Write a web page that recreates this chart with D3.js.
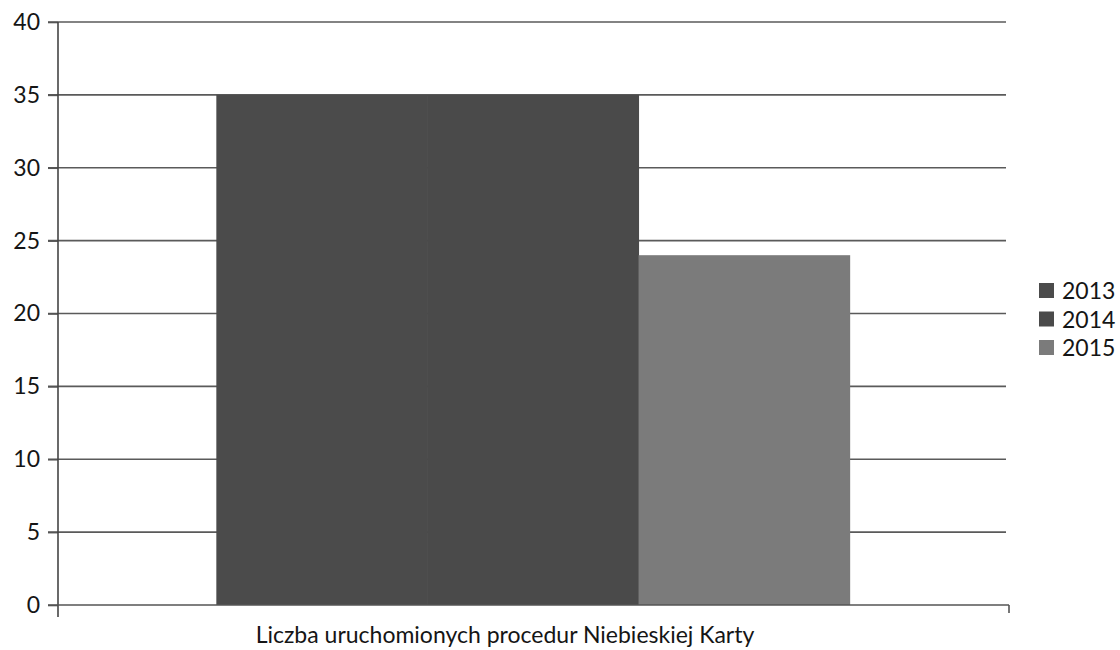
<!DOCTYPE html>
<html>
<head>
<meta charset="utf-8">
<script src="https://cdn.jsdelivr.net/npm/d3@7"></script>
<style>
	body { margin: 0; background: #fff; }
	text { font-family: Lato, "Open Sans", sans-serif; fill: #151515; }
</style>
</head>
<body>
<svg id="chart" width="1120" height="650"></svg>
<script>
var years = ["2013", "2014", "2015"];
var values = [35, 35, 24];
var colors = ["#4b4b4b", "#4a4a4a", "#7b7b7b"];
var yTicks = [0, 5, 10, 15, 20, 25, 30, 35, 40];
var category = "Liczba uruchomionych procedur Niebieskiej Karty";

var svg = d3.select("#chart");

var plotLeft = 58, plotRight = 1008, plotTop = 22, plotBottom = 605;

var y = d3.scaleLinear().domain([0, 40]).range([plotBottom, plotTop]);
var xCat = d3.scaleBand().domain([category]).range([plotLeft, plotRight]).paddingInner(0).paddingOuter(0);
// gap width ~150% of a bar, split on both sides
var gapFrac = 1.5 / (3 + 1.5);
var groupStart = xCat(category) + xCat.bandwidth() * gapFrac / 2;
var groupEnd = xCat(category) + xCat.bandwidth() * (1 - gapFrac / 2);
var x = d3.scaleBand().domain(years).range([groupStart, groupEnd]).padding(0);

// gridlines
svg.append("g")
	.selectAll("line")
	.data(yTicks.filter(function (d) { return d > 0; }))
	.enter().append("line")
	.attr("x1", plotLeft - 10)
	.attr("x2", plotRight - 2)
	.attr("y1", function (d) { return y(d); })
	.attr("y2", function (d) { return y(d); })
	.attr("stroke", "#5a5a5a")
	.attr("stroke-width", 1.6);

// bars
svg.append("g")
	.selectAll("rect")
	.data(values)
	.enter().append("rect")
	.attr("x", function (d, i) { return x(years[i]); })
	.attr("y", function (d) { return y(d); })
	.attr("width", x.bandwidth() + 0.5)
	.attr("height", function (d) { return y(0) - y(d); })
	.attr("fill", function (d, i) { return colors[i]; });

// y axis
var yAxis = d3.axisLeft(y).tickValues(yTicks).tickSize(10).tickPadding(8);
var gy = svg.append("g")
	.attr("transform", "translate(" + plotLeft + ",0)")
	.call(yAxis);
gy.select(".domain").remove();
gy.selectAll(".tick line").attr("stroke", "#555").attr("stroke-width", 1.6);
gy.selectAll(".tick text").style("font-size", "23px").attr("fill", "#151515");
svg.append("line")
	.attr("x1", plotLeft).attr("x2", plotLeft)
	.attr("y1", plotTop).attr("y2", plotBottom + 12)
	.attr("stroke", "#444").attr("stroke-width", 1.6);

// x axis
var xAxis = d3.axisBottom(xCat).tickSize(0).tickFormat("");
var gx = svg.append("g")
	.attr("transform", "translate(0," + plotBottom + ")")
	.call(xAxis);
gx.select(".domain").remove();
svg.append("line")
	.attr("x1", plotLeft - 10).attr("x2", plotRight + 1)
	.attr("y1", plotBottom).attr("y2", plotBottom)
	.attr("stroke", "#555").attr("stroke-width", 1.6);
svg.append("line")
	.attr("x1", plotRight + 1).attr("x2", plotRight + 1)
	.attr("y1", plotBottom).attr("y2", plotBottom + 8)
	.attr("stroke", "#555").attr("stroke-width", 1.6);

svg.append("text")
	.attr("x", xCat(category) + xCat.bandwidth() / 2 - 28)
	.attr("y", 643)
	.attr("text-anchor", "middle")
	.style("font-size", "23px")
	.text(category);

// legend
var legend = svg.append("g")
	.selectAll("g")
	.data(years)
	.enter().append("g")
	.attr("transform", function (d, i) { return "translate(1039," + (283 + i * 28.5) + ")"; });
legend.append("rect")
	.attr("width", 15).attr("height", 15)
	.attr("fill", function (d, i) { return colors[i]; });
legend.append("text")
	.attr("x", 23)
	.attr("y", 16)
	.style("font-size", "23px")
	.text(function (d) { return d; });
</script>
</body>
</html>
